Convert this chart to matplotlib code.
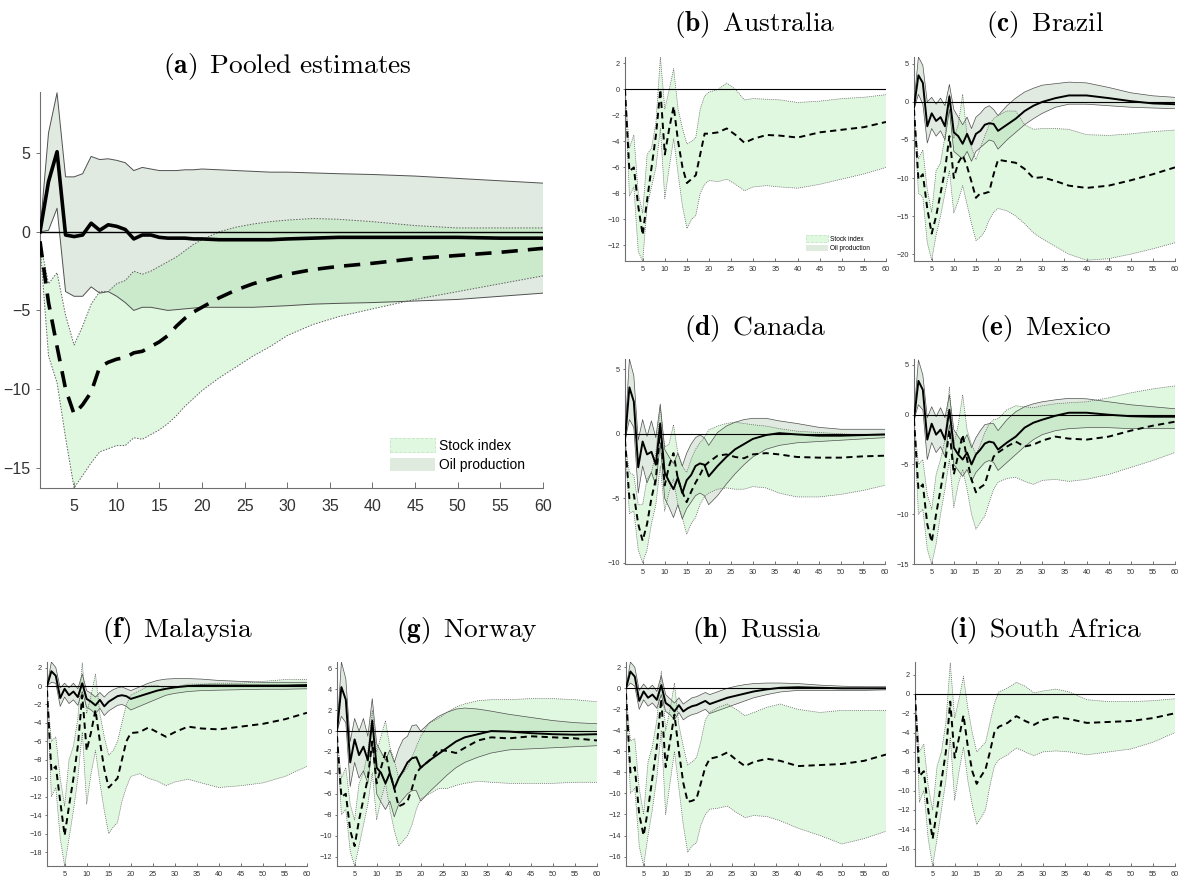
import numpy as np
import matplotlib
matplotlib.use('Agg')
import matplotlib.pyplot as plt
from matplotlib.patches import Patch

plt.rcParams['font.family'] = ['Liberation Sans', 'DejaVu Sans']
plt.rcParams['mathtext.fontset'] = 'cm'

H = [1, 2, 3, 4, 5, 6, 7, 8, 9, 10, 11, 12, 13, 14, 15, 16, 17, 18, 19, 20,
     22, 24, 26, 28, 30, 33, 36, 40, 45, 50, 55, 60]

# (a) pooled
pool_oil_mid = [0, 3.2, 5.1, -0.2, -0.3, -0.2, 0.55, 0.1, 0.45, 0.35, 0.15, -0.45, -0.2, -0.2, -0.35, -0.4, -0.4, -0.4, -0.45, -0.45, -0.5, -0.5, -0.5, -0.5, -0.45, -0.4, -0.35, -0.35, -0.35, -0.35, -0.4, -0.4]
pool_oil_hi = [0, 6.3, 8.85, 3.5, 3.5, 3.7, 4.8, 4.6, 4.65, 4.55, 4.4, 3.9, 4.1, 4.0, 3.9, 3.9, 3.9, 3.95, 3.95, 4.0, 3.95, 3.9, 3.85, 3.8, 3.8, 3.75, 3.7, 3.65, 3.55, 3.4, 3.25, 3.1]
pool_oil_lo = [0, 0.1, 1.5, -3.8, -4.1, -4.1, -3.5, -3.9, -3.8, -4.1, -4.5, -5.0, -4.8, -4.8, -4.9, -5.0, -4.95, -4.9, -4.85, -4.8, -4.8, -4.8, -4.8, -4.75, -4.7, -4.6, -4.55, -4.5, -4.4, -4.3, -4.1, -3.9]
pool_stk_mid = [-0.6, -4.5, -7.3, -10.0, -11.6, -11.0, -10.2, -8.6, -8.3, -8.1, -8.0, -7.7, -7.6, -7.3, -7.0, -6.6, -6.0, -5.5, -5.1, -4.8, -4.2, -3.7, -3.3, -3.0, -2.7, -2.4, -2.2, -2.0, -1.7, -1.5, -1.3, -1.05]
pool_stk_hi = [-0.6, -3.3, -2.6, -5.3, -7.2, -6.0, -4.6, -3.8, -3.8, -3.3, -3.1, -2.5, -2.7, -2.5, -2.2, -1.9, -1.6, -1.2, -0.8, -0.5, 0.0, 0.3, 0.5, 0.65, 0.75, 0.85, 0.8, 0.65, 0.4, 0.25, 0.25, 0.25]
pool_stk_lo = [-0.8, -7.9, -9.6, -13.1, -16.3, -15.5, -14.7, -14.0, -13.8, -13.6, -13.6, -13.1, -13.2, -12.9, -12.6, -12.2, -11.7, -11.1, -10.6, -10.1, -9.3, -8.6, -7.9, -7.3, -6.6, -5.9, -5.4, -4.9, -4.3, -3.8, -3.3, -2.8]

# (b) Australia
au_stk_mid = [0, -6.3, -6.0, -9.0, -11.2, -8.5, -6.0, -3.5, 0.0, -5.0, -3.0, -1.3, -4.0, -6.0, -7.2, -6.9, -6.6, -5.0, -3.4, -3.4, -3.3, -3.0, -3.5, -4.1, -3.8, -3.5, -3.55, -3.7, -3.3, -3.1, -2.9, -2.5]
au_stk_hi = [0, -4.5, -3.5, -8.0, -9.5, -5.0, -4.5, -2.5, 2.5, -1.5, 0.0, 1.6, -1.5, -3.0, -4.2, -4.0, -3.7, -1.5, -0.5, -0.2, 0.0, 0.5, 0.0, -0.8, -0.7, -0.75, -0.8, -1.0, -0.9, -0.7, -0.6, -0.4]
au_stk_lo = [0, -8.2, -7.5, -12.5, -13.2, -9.0, -7.5, -6.0, -3.0, -8.4, -6.0, -3.8, -6.5, -9.0, -10.7, -10.0, -9.7, -8.0, -7.3, -7.0, -7.1, -6.9, -7.3, -7.8, -7.5, -7.4, -7.5, -7.6, -7.3, -6.9, -6.5, -6.0]

# (c) Brazil
br_oil_mid = [-0.7, 3.5, 2.5, -3.2, -1.5, -2.5, -2.0, -3.2, 0.7, -4.0, -4.5, -5.5, -4.2, -5.6, -4.2, -3.8, -3.0, -2.8, -2.9, -3.8, -3.0, -2.2, -1.2, -0.5, 0.0, 0.5, 0.85, 0.85, 0.5, 0.1, -0.2, -0.3]
br_oil_hi = [0, 5.9, 4.8, 0.0, 0.6, -0.3, 0.5, -0.5, 2.3, -1.0, -2.0, -3.0, -2.0, -3.5, -2.0, -1.5, -0.8, -0.5, -1.0, -1.8, -0.5, 0.5, 1.3, 1.8, 2.2, 2.4, 2.6, 2.5, 1.9, 1.2, 0.8, 0.6]
br_oil_lo = [-1.0, 1.0, -0.3, -5.4, -3.5, -4.5, -3.8, -5.0, -1.0, -6.5, -7.0, -7.5, -6.5, -7.8, -6.5, -6.0, -5.5, -5.0, -5.2, -6.2, -5.0, -4.0, -3.0, -2.2, -1.5, -0.7, -0.3, -0.3, -0.5, -0.7, -0.8, -0.9]
br_stk_mid = [-1.0, -10.2, -9.5, -14.0, -17.3, -15.0, -12.0, -9.0, -4.5, -10.0, -8.0, -7.0, -8.5, -10.5, -12.6, -12.0, -12.0, -11.8, -9.5, -7.6, -7.8, -8.0, -8.8, -10.0, -9.9, -10.4, -11.0, -11.3, -11.0, -10.3, -9.5, -8.6]
br_stk_hi = [-1.0, -7.5, -6.3, -11.5, -14.5, -9.0, -8.0, -4.5, 1.0, -4.8, -3.0, 1.0, -4.5, -6.0, -7.6, -6.0, -4.5, -3.0, -2.2, -1.8, -1.2, -1.2, -3.0, -3.6, -3.5, -3.5, -3.6, -4.3, -4.4, -4.2, -3.9, -3.7]
br_stk_lo = [-1.0, -12.0, -12.5, -18.5, -20.8, -17.5, -15.0, -12.0, -9.0, -14.6, -13.0, -11.0, -13.5, -16.0, -18.2, -17.8, -17.0, -15.5, -14.5, -14.0, -14.3, -15.0, -16.0, -17.2, -18.0, -19.0, -20.0, -20.8, -20.6, -20.0, -19.3, -18.5]

# (d) Canada
ca_oil_mid = [-0.5, 3.6, 2.5, -2.6, -0.6, -1.6, -1.4, -2.4, 0.8, -3.0, -3.7, -4.3, -3.4, -4.6, -3.6, -3.2, -2.5, -2.3, -2.4, -3.3, -2.5, -1.8, -1.2, -0.8, -0.4, -0.1, 0.05, -0.05, -0.15, -0.15, -0.1, -0.05]
ca_oil_hi = [0, 5.8, 4.5, -0.5, 1.1, -0.2, 1.0, -0.3, 2.3, -1.2, -1.8, -2.3, -1.5, -2.5, -1.5, -0.8, -0.3, -0.1, -0.3, -0.9, 0.1, 0.6, 0.9, 1.1, 1.2, 1.2, 1.0, 0.8, 0.5, 0.35, 0.35, 0.35]
ca_oil_lo = [-0.5, 1.1, 0.5, -4.6, -2.5, -3.8, -3.0, -4.0, -0.7, -5.0, -5.7, -6.5, -5.5, -6.6, -5.8, -5.3, -4.8, -4.6, -4.8, -5.5, -4.8, -3.9, -3.1, -2.4, -1.8, -1.2, -0.9, -0.7, -0.6, -0.5, -0.4, -0.3]
ca_stk_mid = [-0.5, -5.0, -4.7, -7.0, -8.3, -7.0, -5.0, -3.5, 0.5, -4.0, -2.5, -1.5, -3.5, -4.5, -5.3, -4.5, -3.8, -3.2, -2.5, -2.2, -1.7, -1.6, -1.8, -1.9, -1.6, -1.5, -1.6, -1.8, -1.85, -1.85, -1.75, -1.7]
ca_stk_hi = [-0.5, -3.0, -3.2, -5.5, -5.5, -3.5, -3.0, -1.5, 2.0, -1.0, -0.8, 0.7, -1.5, -2.5, -3.0, -2.0, -1.2, -0.7, -0.3, 0.3, 0.6, 0.8, 0.9, 0.8, 0.7, 0.6, 0.4, 0.2, 0.1, 0.0, -0.1, -0.1]
ca_stk_lo = [-0.5, -6.2, -6.0, -9.0, -10.0, -9.0, -7.0, -5.5, -2.5, -6.0, -4.5, -3.5, -5.5, -6.5, -7.8, -7.0, -6.5, -5.5, -4.9, -4.6, -4.3, -4.2, -4.3, -4.3, -4.1, -4.2, -4.6, -4.9, -4.9, -4.7, -4.4, -4.0]

# (e) Mexico
mx_oil_mid = [-0.5, 3.4, 2.5, -2.5, -0.9, -2.0, -1.5, -2.5, 0.5, -3.3, -4.0, -4.5, -3.8, -5.0, -4.0, -3.5, -2.9, -2.7, -2.8, -3.5, -2.8, -2.2, -1.3, -0.8, -0.5, -0.1, 0.2, 0.2, 0.0, -0.15, -0.2, -0.2]
mx_oil_hi = [0, 5.5, 4.0, -0.3, 0.8, -0.2, 0.7, -0.3, 2.0, -1.5, -2.2, -2.8, -2.0, -3.3, -2.3, -1.6, -1.0, -0.9, -0.9, -1.6, -0.5, 0.3, 0.8, 1.1, 1.3, 1.5, 1.65, 1.6, 1.3, 1.0, 0.8, 0.6]
mx_oil_lo = [-0.5, 1.0, 0.5, -4.5, -2.8, -3.8, -3.2, -4.2, -1.0, -5.0, -5.6, -6.2, -5.5, -6.7, -5.8, -5.3, -4.8, -4.6, -4.8, -5.6, -4.8, -4.0, -3.2, -2.5, -2.0, -1.6, -1.4, -1.3, -1.3, -1.4, -1.4, -1.4]
mx_stk_mid = [-0.5, -7.5, -7.0, -11.0, -12.8, -10.0, -7.5, -5.0, -1.5, -6.0, -4.0, -2.0, -4.5, -6.5, -7.8, -7.3, -7.0, -5.5, -4.2, -3.8, -3.2, -2.7, -3.2, -3.0, -2.6, -2.2, -2.4, -2.5, -2.2, -1.6, -1.1, -0.7]
mx_stk_hi = [-0.5, -5.0, -4.5, -8.0, -9.5, -6.0, -4.5, -2.5, 2.8, -3.0, -1.0, 2.0, -1.5, -3.0, -4.0, -3.0, -1.8, -0.9, -0.5, -0.4, 0.5, 0.9, 0.8, 0.7, 0.9, 1.1, 1.2, 1.3, 1.7, 2.2, 2.6, 2.9]
mx_stk_lo = [-0.5, -10.0, -9.5, -13.5, -15.0, -13.0, -10.0, -7.5, -4.5, -9.3, -7.0, -5.5, -7.5, -10.0, -11.5, -10.8, -10.2, -8.8, -7.5, -6.8, -6.4, -6.3, -6.7, -7.0, -6.6, -6.5, -6.7, -6.5, -6.0, -5.3, -4.6, -3.8]

# (f) Malaysia
my_oil_mid = [0, 1.6, 1.1, -1.3, -0.3, -1.0, -0.6, -1.2, 0.3, -1.4, -1.7, -2.1, -1.5, -2.2, -1.7, -1.4, -1.1, -1.0, -1.1, -1.4, -1.1, -0.8, -0.5, -0.3, -0.15, 0.0, 0.05, 0.05, 0.05, 0.05, 0.05, 0.1]
my_oil_hi = [0, 2.6, 2.0, -0.2, 0.3, -0.2, 0.3, -0.3, 1.3, -0.5, -0.8, -1.2, -0.7, -1.2, -0.7, -0.4, -0.2, -0.1, -0.3, -0.5, -0.1, 0.3, 0.6, 0.75, 0.8, 0.8, 0.75, 0.6, 0.5, 0.4, 0.4, 0.4]
my_oil_lo = [0, 0.4, 0.3, -2.2, -1.2, -1.9, -1.5, -2.1, -0.6, -2.3, -2.6, -3.0, -2.4, -3.2, -2.7, -2.4, -2.1, -2.0, -2.2, -2.6, -2.2, -1.8, -1.4, -1.0, -0.8, -0.6, -0.5, -0.45, -0.4, -0.35, -0.35, -0.3]
my_stk_mid = [-0.5, -9.2, -8.7, -12.5, -16.2, -13.0, -10.0, -6.5, -1.0, -7.0, -5.0, -2.6, -6.0, -9.0, -11.0, -10.5, -10.0, -8.0, -6.0, -5.1, -5.0, -4.5, -5.0, -5.5, -5.0, -4.4, -4.6, -4.7, -4.4, -4.1, -3.6, -2.9]
my_stk_hi = [-0.5, -6.0, -5.5, -10.0, -13.0, -8.0, -6.5, -3.5, 2.5, -3.0, -1.0, 1.3, -3.0, -5.5, -7.5, -7.0, -6.0, -4.0, -2.0, -1.0, -0.5, 0.0, 0.1, -0.3, -0.1, 0.2, 0.2, 0.3, 0.3, 0.5, 0.7, 0.7]
my_stk_lo = [-0.5, -12.0, -11.0, -16.5, -19.5, -16.5, -13.5, -10.0, -5.0, -12.8, -9.5, -7.0, -10.5, -13.5, -16.0, -15.3, -14.8, -12.5, -11.0, -9.8, -9.5, -10.0, -10.3, -10.8, -10.4, -10.1, -10.5, -11.0, -10.8, -10.5, -9.8, -8.7]

# (g) Norway
no_oil_mid = [0, 4.2, 3.0, -3.0, -0.8, -2.3, -1.5, -2.8, 1.0, -3.5, -4.0, -5.0, -4.0, -5.5, -4.5, -3.8, -3.0, -2.6, -2.5, -3.5, -2.8, -2.2, -1.6, -1.0, -0.6, -0.3, 0.0, -0.05, -0.2, -0.3, -0.35, -0.3]
no_oil_hi = [0, 6.6, 5.0, -1.0, 1.2, 0.0, 1.2, -0.5, 3.1, -1.2, -2.0, -2.8, -1.8, -3.0, -1.7, -0.8, -0.5, 0.5, 0.6, 0.0, 0.8, 1.4, 1.8, 2.1, 2.2, 2.1, 1.9, 1.6, 1.3, 1.0, 0.8, 0.7]
no_oil_lo = [0, 1.4, 0.8, -5.3, -3.0, -4.5, -3.8, -5.0, -1.0, -6.0, -6.8, -7.5, -6.7, -8.2, -7.0, -6.5, -6.0, -5.7, -5.7, -6.7, -5.8, -5.0, -4.2, -3.5, -3.0, -2.5, -2.1, -1.8, -1.7, -1.6, -1.5, -1.4]
no_stk_mid = [-0.5, -6.3, -6.0, -9.5, -11.0, -8.5, -6.5, -4.5, -1.0, -5.0, -3.5, -2.0, -4.0, -5.5, -7.2, -7.0, -6.7, -5.5, -4.0, -3.5, -2.8, -1.8, -1.9, -2.1, -1.6, -0.9, -0.6, -0.7, -0.5, -0.6, -0.7, -0.9]
no_stk_hi = [-0.5, -4.5, -3.5, -7.0, -8.5, -5.0, -4.0, -2.0, 2.0, -2.0, -0.5, 1.0, -1.5, -2.8, -4.5, -4.0, -3.5, -2.5, -1.5, -0.5, 0.8, 1.2, 1.8, 2.3, 2.6, 2.9, 3.0, 3.0, 3.1, 3.1, 3.0, 2.8]
no_stk_lo = [-0.5, -8.0, -7.5, -11.5, -12.9, -11.0, -9.0, -7.0, -4.0, -8.5, -6.5, -5.0, -7.5, -9.5, -11.0, -10.5, -10.0, -9.0, -7.5, -6.5, -6.0, -5.5, -5.5, -5.2, -5.0, -4.8, -4.9, -5.0, -5.0, -5.0, -4.9, -4.9]

# (h) Russia
ru_oil_mid = [0, 1.6, 1.1, -1.2, -0.3, -0.9, -0.6, -1.1, 0.3, -1.4, -1.7, -2.2, -1.6, -2.2, -1.9, -1.7, -1.6, -1.4, -1.2, -1.5, -1.2, -0.9, -0.7, -0.5, -0.3, -0.1, 0.05, 0.1, 0.05, 0.0, 0.0, 0.0]
ru_oil_hi = [0, 2.5, 2.0, -0.2, 0.4, -0.1, 0.3, -0.3, 1.2, -0.6, -1.0, -1.4, -0.9, -1.5, -1.2, -0.9, -0.8, -0.6, -0.4, -0.6, -0.3, 0.0, 0.2, 0.35, 0.45, 0.5, 0.5, 0.45, 0.3, 0.2, 0.15, 0.15]
ru_oil_lo = [0, 0.5, 0.2, -2.0, -1.1, -1.7, -1.4, -1.9, -0.6, -2.2, -2.5, -3.0, -2.3, -3.0, -2.7, -2.5, -2.4, -2.2, -2.0, -2.4, -2.1, -1.8, -1.5, -1.2, -0.9, -0.6, -0.35, -0.2, -0.2, -0.2, -0.2, -0.15]
ru_stk_mid = [-0.5, -8.0, -7.5, -12.0, -14.0, -11.5, -8.5, -5.5, -1.0, -7.5, -5.0, -2.5, -6.0, -9.0, -10.8, -10.7, -10.5, -9.0, -7.5, -6.7, -6.5, -6.1, -6.8, -7.4, -7.0, -6.7, -6.9, -7.4, -7.3, -7.2, -6.9, -6.3]
ru_stk_hi = [-0.5, -5.0, -4.8, -9.5, -12.0, -7.0, -5.5, -3.0, 1.6, -4.0, -2.0, 0.5, -3.5, -5.5, -7.3, -7.0, -6.6, -5.0, -3.0, -2.3, -1.8, -1.5, -2.0, -2.6, -2.3, -1.8, -1.5, -2.0, -2.3, -2.1, -2.1, -2.1]
ru_stk_lo = [-0.5, -10.0, -9.5, -15.0, -16.9, -14.0, -11.5, -8.5, -4.0, -12.0, -9.0, -6.0, -9.5, -13.0, -15.6, -15.0, -14.7, -13.0, -12.0, -11.5, -11.4, -11.2, -11.8, -12.3, -12.1, -12.2, -12.6, -13.3, -14.0, -14.8, -14.3, -13.6]

# (i) South Africa
sa_stk_mid = [0, -8.5, -8.0, -12.0, -15.0, -12.0, -9.0, -6.0, -0.8, -6.6, -4.5, -2.2, -5.5, -8.0, -9.3, -8.5, -7.8, -6.0, -4.0, -3.4, -3.0, -2.3, -2.8, -3.2, -2.7, -2.4, -2.6, -3.0, -2.9, -2.8, -2.5, -2.0]
sa_stk_hi = [0, -6.0, -5.2, -9.5, -12.0, -7.5, -6.0, -3.0, 3.2, -2.5, -0.5, 1.8, -1.5, -4.0, -6.0, -5.5, -5.0, -3.0, -1.0, 0.2, 0.6, 1.2, 0.8, 0.1, 0.3, 0.5, 0.2, -0.6, -0.8, -0.8, -0.7, -0.5]
sa_stk_lo = [0, -11.2, -10.0, -15.0, -17.8, -15.0, -12.0, -9.0, -4.5, -11.0, -8.0, -5.5, -9.0, -11.5, -13.5, -12.8, -12.0, -9.5, -7.5, -6.8, -6.3, -5.6, -6.0, -6.4, -6.0, -5.9, -6.0, -6.3, -6.0, -5.7, -5.0, -4.0]

W, HGT = 1181, 880
STK_FACE = (0.64, 0.91, 0.64, 0.33)
OIL_FACE = (0.60, 0.73, 0.60, 0.30)


def draw_panel(box, title, title_xy, ylim, yticks, stk, oil=None, big=False, legend=False):
    l, r, t, b = box
    ax = fig.add_axes([l / W, 1 - b / HGT, (r - l) / W, (b - t) / HGT])
    x = np.array(H)
    lw_mid = 2.6 if big else 1.4
    lw_edge = 0.7 if big else 0.5
    if oil is not None:
        ax.fill_between(x, oil[1], oil[2], facecolor=OIL_FACE, edgecolor='none', zorder=1)
    ax.fill_between(x, stk[1], stk[2], facecolor=STK_FACE, edgecolor='none', zorder=2)
    if oil is not None:
        ax.plot(x, oil[1], color='#505050', lw=lw_edge, zorder=3)
        ax.plot(x, oil[2], color='#505050', lw=lw_edge, zorder=3)
    ax.plot(x, stk[1], color='#606060', lw=lw_edge, ls=(0, (1.5, 1.5)), zorder=3)
    ax.plot(x, stk[2], color='#606060', lw=lw_edge, ls=(0, (1.5, 1.5)), zorder=3)
    ax.axhline(0, color='black', lw=1.0 if big else 0.8, zorder=4)
    if oil is not None:
        ax.plot(x, oil[0], color='black', lw=lw_mid, zorder=5)
    dash = (0, (4.5, 2.8)) if big else (0, (3.2, 2.2))
    ax.plot(x, stk[0], color='black', lw=lw_mid, ls=dash, zorder=6)

    ax.set_xlim(1, 60)
    ax.set_ylim(*ylim)
    ax.set_xticks(range(5, 61, 5))
    ax.set_yticks(yticks)
    for s in ['top', 'right']:
        ax.spines[s].set_visible(False)
    for s in ['left', 'bottom']:
        ax.spines[s].set_color('#707070')
        ax.spines[s].set_linewidth(0.8)
    fs = 11.5 if big else 5.3
    ax.tick_params(axis='x', direction='in', length=4 if big else 2, pad=8 if big else 3.5,
                   labelsize=fs, colors='#707070', labelcolor='#333333', width=0.7)
    ax.tick_params(axis='y', direction='out', length=3 if big else 1.5, pad=4 if big else 2,
                   labelsize=fs, colors='#707070', labelcolor='#333333', width=0.7)

    if legend:
        hs = [Patch(facecolor=STK_FACE, edgecolor=(0.75, 0.9, 0.75), ls='--', lw=0.6),
              Patch(facecolor=(0.88, 0.92, 0.88), edgecolor='none')]
        ax.legend(hs, ['Stock index', 'Oil production'], loc='upper left',
                  bbox_to_anchor=(0.695, 0.125), frameon=False,
                  fontsize=10 if big else 4.7, handlelength=3.3, handleheight=1.1,
                  handletextpad=0.25, labelspacing=0.35, borderpad=0, borderaxespad=0)

    fig.text(title_xy[0] / W, 1 - title_xy[1] / HGT, title, ha='center', va='center', fontsize=19.8)
    return ax


fig = plt.figure(figsize=(W / 100, HGT / 100), dpi=100)

draw_panel((40, 543, 92, 488), r'$\mathbf{(a)}\ \,\mathrm{Pooled\ estimates}$', (287, 66),
           (-16.3, 8.9), [-15, -10, -5, 0, 5],
           (pool_stk_mid, pool_stk_lo, pool_stk_hi), (pool_oil_mid, pool_oil_lo, pool_oil_hi),
           big=True, legend=True)
draw_panel((625, 886, 57, 261), r'$\mathbf{(b)}\ \,\mathrm{Australia}$', (755, 25),
           (-13.2, 2.5), range(-12, 3, 2), (au_stk_mid, au_stk_lo, au_stk_hi), legend=True)
draw_panel((914, 1175, 57, 261), r'$\mathbf{(c)}\ \,\mathrm{Brazil}$', (1045, 25),
           (-20.9, 5.9), range(-20, 6, 5), (br_stk_mid, br_stk_lo, br_stk_hi),
           (br_oil_mid, br_oil_lo, br_oil_hi))
draw_panel((625, 885, 359, 564), r'$\mathbf{(d)}\ \,\mathrm{Canada}$', (755, 328),
           (-10.1, 5.8), range(-10, 6, 5), (ca_stk_mid, ca_stk_lo, ca_stk_hi),
           (ca_oil_mid, ca_oil_lo, ca_oil_hi))
draw_panel((914, 1175, 359, 564), r'$\mathbf{(e)}\ \,\mathrm{Mexico}$', (1045, 328),
           (-15.0, 5.6), range(-15, 6, 5), (mx_stk_mid, mx_stk_lo, mx_stk_hi),
           (mx_oil_mid, mx_oil_lo, mx_oil_hi))
draw_panel((47, 307, 662, 866), r'$\mathbf{(f)}\ \,\mathrm{Malaysia}$', (177, 630),
           (-19.5, 2.6), range(-18, 3, 2), (my_stk_mid, my_stk_lo, my_stk_hi),
           (my_oil_mid, my_oil_lo, my_oil_hi))
draw_panel((337, 597, 662, 866), r'$\mathbf{(g)}\ \,\mathrm{Norway}$', (467, 630),
           (-12.9, 6.6), range(-12, 7, 2), (no_stk_mid, no_stk_lo, no_stk_hi),
           (no_oil_mid, no_oil_lo, no_oil_hi))
draw_panel((626, 886, 662, 866), r'$\mathbf{(h)}\ \,\mathrm{Russia}$', (756, 630),
           (-16.9, 2.5), range(-16, 3, 2), (ru_stk_mid, ru_stk_lo, ru_stk_hi),
           (ru_oil_mid, ru_oil_lo, ru_oil_hi))
draw_panel((915, 1175, 662, 866), r'$\mathbf{(i)}\ \,\mathrm{South\ Africa}$', (1045, 630),
           (-17.8, 3.3), range(-16, 3, 2), (sa_stk_mid, sa_stk_lo, sa_stk_hi))

plt.savefig('out.png', dpi=100)
